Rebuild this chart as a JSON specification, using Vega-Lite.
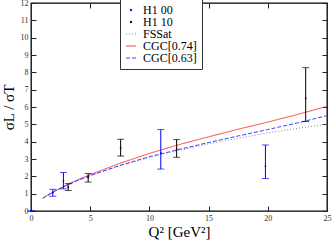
{
  "$schema": "https://vega.github.io/schema/vega-lite/v6.json",
  "autosize": {"type": "none"},
  "padding": {"left": 31, "top": 3, "right": 5, "bottom": 32},
  "width": 296,
  "height": 208,
  "background": "white",
  "config": {
    "view": {"stroke": "#000", "strokeWidth": 1.3},
    "font": "Liberation Serif",
    "axisX": {"titleFont": "Liberation Serif", "titleFontSize": 15, "titleFontWeight": "normal", "titleColor": "#000", "titlePadding": 2,
      "labelFont": "Liberation Serif", "labelFontSize": 8, "labelColor": "#333", "labelPadding": 3,
      "ticks": false, "domain": false, "labelFlush": false, "labelOverlap": false,
      "grid": true, "gridColor": "#222", "gridOpacity": 1, "gridWidth": 1},
    "axisY": {"titleFont": "Liberation Serif", "titleFontSize": 15, "titleFontWeight": "normal", "titleColor": "#000", "titlePadding": 4,
      "tickCount": 12, "labelFont": "Liberation Serif", "labelFontSize": 8, "labelColor": "#333", "labelPadding": 3,
      "ticks": false, "domain": false, "labelFlush": false, "labelOverlap": false, "labelBound": false, "labelSeparation": 0,
      "grid": true, "gridColor": "#222", "gridOpacity": 1, "gridWidth": 1,
      "gridDash": [5, 286, 5, 100]}
  },
  "datasets": {
    "pts": [
      {"series": "H1 00", "q2": 0, "r": 0, "lo": 0, "hi": 0},
      {"series": "H1 00", "q2": 1.84, "r": 1.05, "lo": 0.85, "hi": 1.25},
      {"series": "H1 00", "q2": 2.74, "r": 1.73, "lo": 1.28, "hi": 2.22},
      {"series": "H1 00", "q2": 10.96, "r": 3.35, "lo": 2.42, "hi": 4.7},
      {"series": "H1 00", "q2": 19.8, "r": 2.58, "lo": 1.87, "hi": 3.81},
      {"series": "H1 10", "q2": 3.14, "r": 1.37, "lo": 1.18, "hi": 1.58},
      {"series": "H1 10", "q2": 4.83, "r": 1.93, "lo": 1.67, "hi": 2.16},
      {"series": "H1 10", "q2": 7.57, "r": 3.64, "lo": 3.17, "hi": 4.14},
      {"series": "H1 10", "q2": 12.3, "r": 3.56, "lo": 3.1, "hi": 4.12},
      {"series": "H1 10", "q2": 23.2, "r": 6.5, "lo": 5.16, "hi": 8.27}
    ],
    "curves": [
      {"series": "FSSat", "q2": 1, "r": 0.74},
      {"series": "FSSat", "q2": 2, "r": 1.13},
      {"series": "FSSat", "q2": 3, "r": 1.47},
      {"series": "FSSat", "q2": 4, "r": 1.77},
      {"series": "FSSat", "q2": 5, "r": 2.03},
      {"series": "FSSat", "q2": 7.5, "r": 2.6},
      {"series": "FSSat", "q2": 10, "r": 3.1},
      {"series": "FSSat", "q2": 12.5, "r": 3.5},
      {"series": "FSSat", "q2": 15, "r": 3.87},
      {"series": "FSSat", "q2": 17.5, "r": 4.2},
      {"series": "FSSat", "q2": 20, "r": 4.5},
      {"series": "FSSat", "q2": 22.5, "r": 4.77},
      {"series": "FSSat", "q2": 25, "r": 5.0},
      {"series": "CGC[0.74]", "q2": 1, "r": 0.75},
      {"series": "CGC[0.74]", "q2": 2, "r": 1.15},
      {"series": "CGC[0.74]", "q2": 3, "r": 1.5},
      {"series": "CGC[0.74]", "q2": 4, "r": 1.82},
      {"series": "CGC[0.74]", "q2": 5, "r": 2.1},
      {"series": "CGC[0.74]", "q2": 7.5, "r": 2.75},
      {"series": "CGC[0.74]", "q2": 10, "r": 3.32},
      {"series": "CGC[0.74]", "q2": 12.5, "r": 3.83},
      {"series": "CGC[0.74]", "q2": 15, "r": 4.28},
      {"series": "CGC[0.74]", "q2": 17.5, "r": 4.72},
      {"series": "CGC[0.74]", "q2": 20, "r": 5.13},
      {"series": "CGC[0.74]", "q2": 22.5, "r": 5.57},
      {"series": "CGC[0.74]", "q2": 25, "r": 6.04},
      {"series": "CGC[0.63]", "q2": 1, "r": 0.74},
      {"series": "CGC[0.63]", "q2": 2, "r": 1.14},
      {"series": "CGC[0.63]", "q2": 3, "r": 1.48},
      {"series": "CGC[0.63]", "q2": 4, "r": 1.78},
      {"series": "CGC[0.63]", "q2": 5, "r": 2.05},
      {"series": "CGC[0.63]", "q2": 7.5, "r": 2.63},
      {"series": "CGC[0.63]", "q2": 10, "r": 3.13},
      {"series": "CGC[0.63]", "q2": 12.5, "r": 3.55},
      {"series": "CGC[0.63]", "q2": 15, "r": 3.95},
      {"series": "CGC[0.63]", "q2": 17.5, "r": 4.33},
      {"series": "CGC[0.63]", "q2": 20, "r": 4.7},
      {"series": "CGC[0.63]", "q2": 22.5, "r": 5.08},
      {"series": "CGC[0.63]", "q2": 25, "r": 5.5}
    ]
  },
  "layer": [
    {
      "data": {"name": "curves"},
      "mark": {"type": "line", "strokeWidth": 1, "clip": true},
      "encoding": {
        "x": {"field": "q2", "type": "quantitative",
          "scale": {"domain": [0, 25], "nice": false},
          "axis": {"title": "Q² [GeV²]", "values": [0, 2.5, 5, 7.5, 10, 12.5, 15, 17.5, 20, 22.5, 25],
            "labelExpr": "datum.value % 5 == 0 ? datum.label : ''",
            "gridDash": {"condition": {"test": "datum.value % 5 == 0", "value": [5, 198, 5, 100]}, "value": [3, 202, 3, 100]}}},
        "y": {"field": "r", "type": "quantitative",
          "scale": {"domain": [0, 12], "nice": false},
          "axis": {"title": "σL / σT", "tickCount": 12, "labelOverlap": false}},
        "color": {"field": "series", "type": "nominal",
          "scale": {"domain": ["H1 00", "H1 10", "FSSat", "CGC[0.74]", "CGC[0.63]"],
                    "range": ["#0000ff", "#000000", "#888888", "#ff4040", "#4040ff"]},
          "legend": {"title": null, "orient": "none", "legendX": 89, "legendY": -4,
            "labelFont": "Liberation Serif", "labelFontSize": 12, "labelColor": "#000",
            "symbolSize": 100, "symbolStrokeWidth": 1, "labelOffset": 6, "rowPadding": 0,
            "padding": 5, "strokeColor": "#333", "fillColor": "white"}},
        "strokeDash": {"field": "series", "type": "nominal",
          "scale": {"domain": ["H1 00", "H1 10", "FSSat", "CGC[0.74]", "CGC[0.63]"],
                    "range": [[1, 0], [1, 0], [1, 2], [1, 0], [4, 2]]},
          "legend": {"title": null, "orient": "none", "legendX": 89, "legendY": -4,
            "labelFont": "Liberation Serif", "labelFontSize": 12, "labelColor": "#000",
            "symbolSize": 100, "symbolStrokeWidth": 1, "labelOffset": 6, "rowPadding": 0,
            "padding": 5, "strokeColor": "#333", "fillColor": "white"}},
        "shape": {"field": "series", "type": "nominal",
          "scale": {"domain": ["H1 00", "H1 10", "FSSat", "CGC[0.74]", "CGC[0.63]"],
                    "range": ["M-0.13,-0.13H0.13V0.13H-0.13Z", "M-0.13,-0.13H0.13V0.13H-0.13Z", "stroke", "stroke", "stroke"]},
          "legend": {"title": null, "orient": "none", "legendX": 89, "legendY": -4,
            "labelFont": "Liberation Serif", "labelFontSize": 12, "labelColor": "#000",
            "symbolSize": 100, "symbolStrokeWidth": 1, "labelOffset": 6, "rowPadding": 0,
            "padding": 5, "strokeColor": "#333", "fillColor": "white"}}
      }
    },
    {
      "data": {"name": "pts"},
      "mark": {"type": "rule", "strokeWidth": 1},
      "encoding": {
        "x": {"field": "q2", "type": "quantitative"},
        "y": {"field": "lo", "type": "quantitative", "title": "σL / σT"},
        "y2": {"field": "hi"},
        "color": {"field": "series", "type": "nominal"}
      }
    },
    {
      "data": {"name": "pts"},
      "mark": {"type": "tick", "orient": "horizontal", "size": 7, "thickness": 1},
      "encoding": {
        "x": {"field": "q2", "type": "quantitative"},
        "y": {"field": "lo", "type": "quantitative", "title": "σL / σT"},
        "color": {"field": "series", "type": "nominal"}
      }
    },
    {
      "data": {"name": "pts"},
      "mark": {"type": "tick", "orient": "horizontal", "size": 7, "thickness": 1},
      "encoding": {
        "x": {"field": "q2", "type": "quantitative"},
        "y": {"field": "hi", "type": "quantitative", "title": "σL / σT"},
        "color": {"field": "series", "type": "nominal"}
      }
    },
    {
      "data": {"name": "pts"},
      "mark": {"type": "point", "filled": true, "opacity": 1, "size": 144, "clip": false},
      "encoding": {
        "x": {"field": "q2", "type": "quantitative"},
        "y": {"field": "r", "type": "quantitative", "title": "σL / σT"},
        "color": {"field": "series", "type": "nominal"},
        "shape": {"field": "series", "type": "nominal"}
      }
    }
  ]
}
